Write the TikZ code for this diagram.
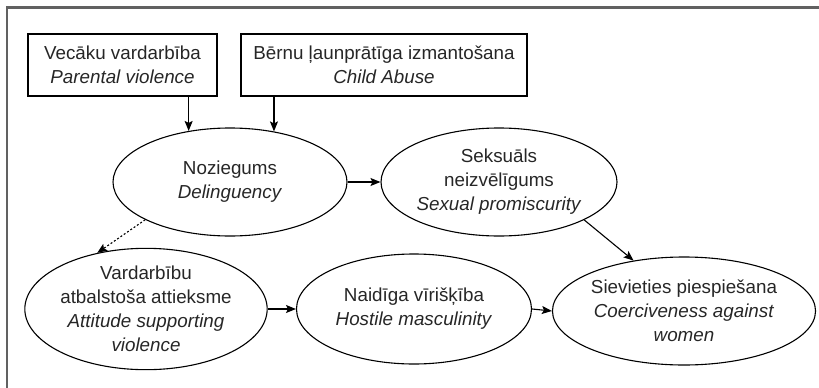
\documentclass[tikz,border=0pt]{standalone}
\usepackage{fontspec}
\setmainfont{Liberation Sans}
\usetikzlibrary{shapes.geometric,arrows.meta}
\tikzset{
  lbl/.style={font=\fontsize{18.8}{24}\selectfont, text=black!85, align=center, inner sep=0pt},
  boxnode/.style={lbl, draw=black, line width=1.1pt},
  ovalnode/.style={lbl, ellipse, draw=black, line width=1.1pt},
  arr/.style={draw=black, line width=1.1pt, -{Stealth[length=10pt,width=8pt,inset=2pt]}},
  darr/.style={arr, dash pattern=on 2pt off 2pt},
  frameline/.style={draw=black!62, line width=2.2pt}
}
\begin{document}
\begin{tikzpicture}[x=1pt,y=-1pt]
\useasboundingbox (0,0) rectangle (819,388);
\draw[frameline] (7,388) -- (7,7.5) -- (819,7.5);
% boxes
\node[boxnode, minimum width=189pt, minimum height=62pt] (b1) at (122.5,65) {Vecāku vardarbība\\\textit{Parental violence}};
\node[boxnode, minimum width=286pt, minimum height=62pt] (b2) at (384,65) {Bērnu ļaunprātīga izmantošana\\\textit{Child Abuse}};
% ellipses
\node[ovalnode, minimum width=234pt, minimum height=108pt] (n1) at (230,182) {Noziegums\\\textit{Delinguency}};
\node[ovalnode, minimum width=236pt, minimum height=108pt] (s) at (499,182) {Seksuāls\\neizvēlīgums\\\textit{Sexual promiscurity}};
\node[ovalnode, minimum width=234pt, minimum height=110pt] (v) at (146,309) {Vardarbību\\atbalstoša attieksme\\\textit{Attitude supporting}\\\textit{violence}};
\node[ovalnode, minimum width=235pt, minimum height=110pt] (h) at (414,309) {Naidīga vīrišķība\\\textit{Hostile masculinity}};
\node[ovalnode, minimum width=236pt, minimum height=108pt] (c) at (684,311) {Sievieties piespiešana\\\textit{Coerciveness against}\\\textit{women}};
% connectors
\draw[arr] (b1.south -| n1.129) -- (n1.129);
\draw[arr] (b2.south -| n1.49) -- (n1.49);
\draw[arr] (n1.east) -- (s.west);
\draw[darr] (n1.204) -- (v.131);
\draw[arr] (s.-24) -- (c.135);
\draw[arr] (v.east) -- (h.west);
\draw[arr] (h.east) -- (c.west);
\end{tikzpicture}
\end{document}
